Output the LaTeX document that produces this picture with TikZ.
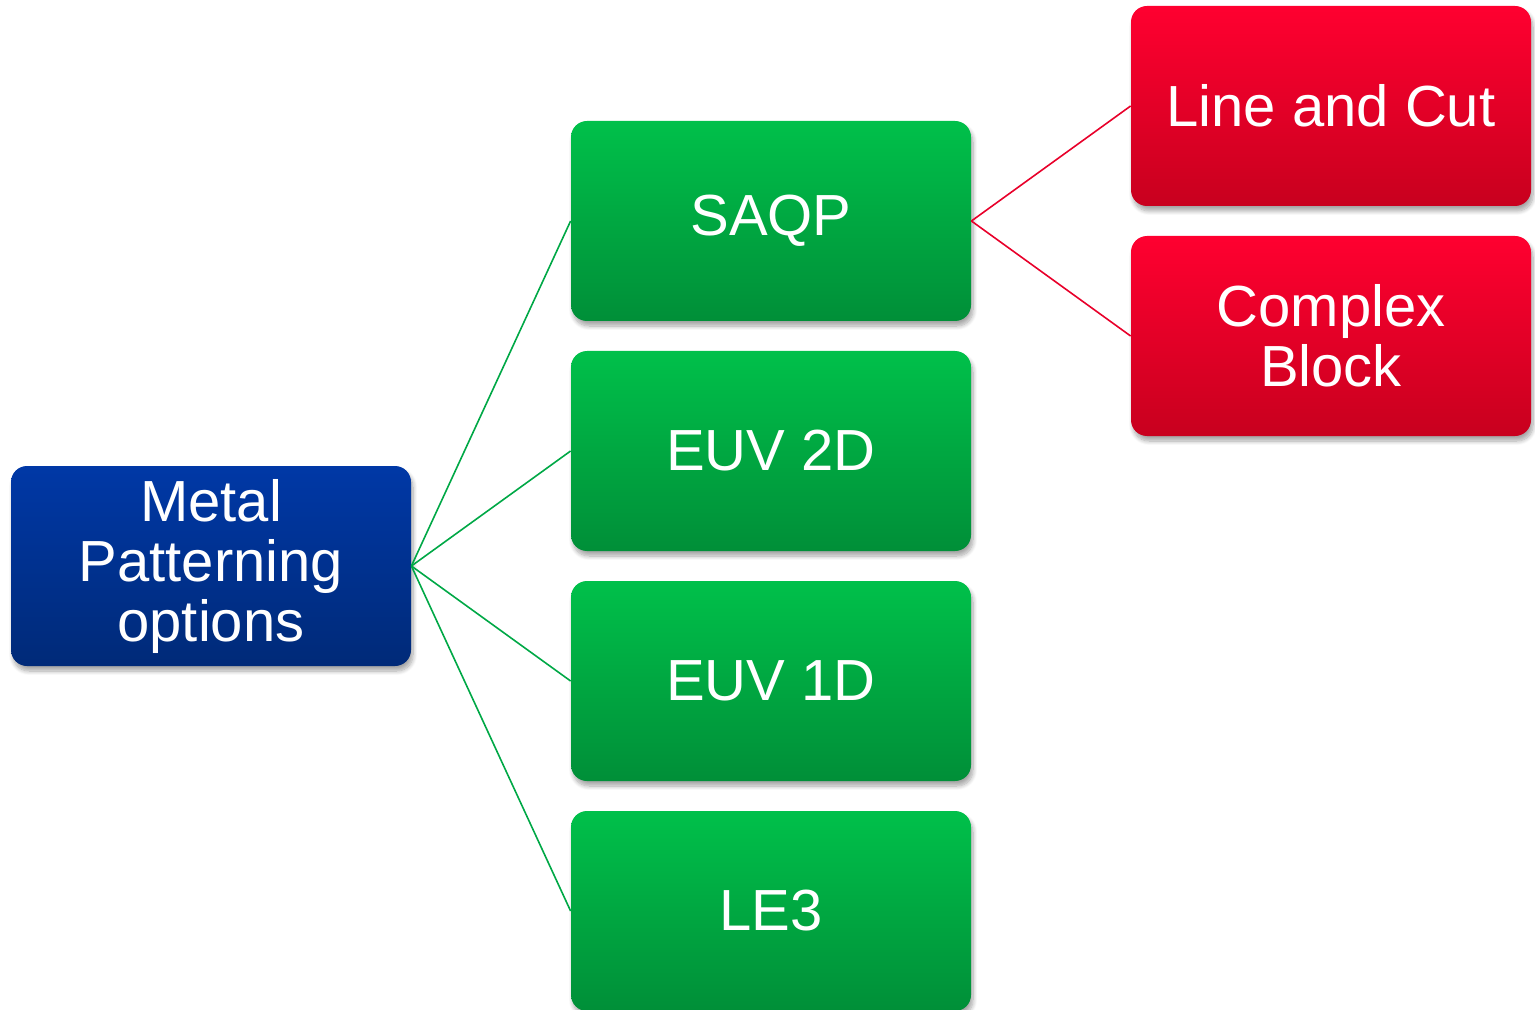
\documentclass[tikz,border=0pt]{standalone}
\usepackage{fontspec}
\setmainfont{Liberation Sans}
\usetikzlibrary{shadows.blur}
\definecolor{bluetop}{HTML}{0038A6}
\definecolor{bluebot}{HTML}{002A78}
\definecolor{greentop}{HTML}{00C04A}
\definecolor{greenbot}{HTML}{008F38}
\definecolor{redtop}{HTML}{FF0030}
\definecolor{redbot}{HTML}{C8001E}
\definecolor{greenline}{HTML}{00A846}
\definecolor{redline}{HTML}{E8002A}
\tikzset{
  px/.style={x=0.5pt,y=-0.5pt},
  box/.style={rectangle, rounded corners=8pt, minimum width=200pt, minimum height=100pt,
    inner sep=0pt, text=white, align=center,
    font=\fontsize{29}{30}\selectfont,
    blur shadow={shadow xshift=1pt, shadow yshift=-2.5pt, shadow blur steps=8, shadow opacity=35}},
  rootbox/.style={box, top color=bluetop, bottom color=bluebot},
  midbox/.style={box, top color=greentop, bottom color=greenbot},
  leafbox/.style={box, top color=redtop, bottom color=redbot},
  gline/.style={draw=greenline, line width=0.8pt},
  rline/.style={draw=redline, line width=0.8pt}
}
\begin{document}
\begin{tikzpicture}[px]
  \useasboundingbox (0,0) rectangle (1535,1010);
  % tree nodes
  \node[rootbox] (metal) at (211,566) {Metal\\Patterning\\options};
  \node[midbox] (saqp) at (771,221) {SAQP};
  \node[midbox] (euv2) at (771,451) {EUV 2D};
  \node[midbox] (euv1) at (771,681) {EUV 1D};
  \node[midbox] (le3) at (771,911) {LE3};
  \node[leafbox] (lac) at (1331,106) {Line and Cut};
  \node[leafbox] (cb) at (1331,336) {Complex\\Block};
  % connectors
  \draw[gline] (metal.east) -- (saqp.west);
  \draw[gline] (metal.east) -- (euv2.west);
  \draw[gline] (metal.east) -- (euv1.west);
  \draw[gline] (metal.east) -- (le3.west);
  \draw[rline] (saqp.east) -- (lac.west);
  \draw[rline] (saqp.east) -- (cb.west);
\end{tikzpicture}
\end{document}
